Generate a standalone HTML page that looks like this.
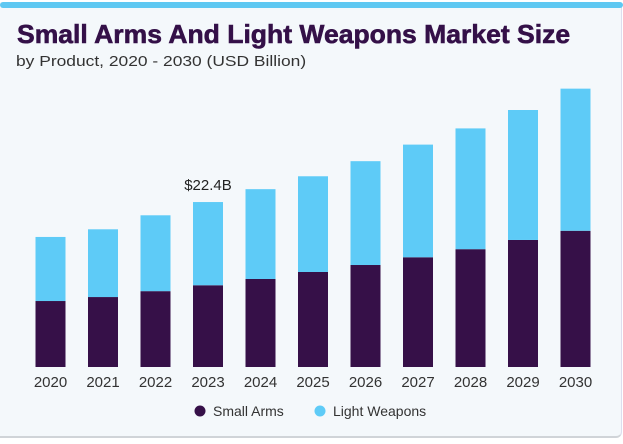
<!DOCTYPE html>
<html><head><meta charset="utf-8"><style>
html,body{margin:0;padding:0;background:#fff;}
body{width:623px;height:444px;position:relative;overflow:hidden;font-family:"Liberation Sans",sans-serif;}
#card{position:absolute;left:0;top:2px;width:621px;height:434px;background:#f4f8fb;border-bottom:2px solid #d0d4d8;border-right:1px solid #dde;border-radius:0 6px 6px 0;}
#topbar{position:absolute;left:0;top:2px;width:623px;height:6px;background:#5ec8f2;border-radius:3px;}
#title{position:absolute;left:17px;top:19px;font-size:26px;font-weight:bold;color:#341048;white-space:nowrap;transform:scaleX(1.02);transform-origin:left;-webkit-text-stroke:0.6px #341048;}
#sub{position:absolute;left:16px;top:53px;font-size:15px;color:#333;white-space:nowrap;transform:scaleX(1.16);transform-origin:left;}
</style></head><body>
<div id="card"></div>
<div id="topbar"></div>
<div id="title">Small Arms And Light Weapons Market Size</div>
<div id="sub">by Product, 2020 - 2030 (USD Billion)</div>
<svg id="chart" width="623" height="444" style="position:absolute;left:0;top:0"></svg>
<script>
const years=["2020","2021","2022","2023","2024","2025","2026","2027","2028","2029","2030"];
const smallArms=[8.96,9.5,10.3,11.1,11.95,12.9,13.85,14.9,16.0,17.25,18.5];
const lightWeapons=[8.7,9.2,10.3,11.3,12.2,13.0,14.1,15.3,16.4,17.65,19.3];
const annotatedIndex=3;
const annotatedLabel="$22.4B";
const NS="http://www.w3.org/2000/svg";
const svg=document.getElementById('chart');
const baseY=367, pxPerUnit=7.364, x0=35.5, step=52.5, bw=30;
function xPos(i){return x0+i*step;}
function yPos(v){return baseY-v*pxPerUnit;}
function mk(t,a){const e=document.createElementNS(NS,t);for(const k in a)e.setAttribute(k,a[k]);svg.appendChild(e);return e;}
years.forEach((yr,i)=>{
  const x=xPos(i);
  const s=smallArms[i], l=lightWeapons[i];
  const r1=mk('rect',{x:x,y:yPos(s),width:bw,height:baseY-yPos(s),fill:'#361048'});
  
  
  const r2=mk('rect',{x:x,y:yPos(s+l),width:bw,height:yPos(s)-yPos(s+l),fill:'#5ecbf7'});
  
  
  const t=mk('text',{x:x+bw/2,y:387,'text-anchor':'middle','font-size':'15',fill:'#333'});
  t.textContent=yr;
  
  
});
const ai=annotatedIndex;
const lab=mk('text',{x:xPos(ai)+bw/2,y:yPos(smallArms[ai]+lightWeapons[ai])-12,'text-anchor':'middle','font-size':'15',fill:'#222'});
lab.textContent=annotatedLabel;


const c1=mk('circle',{cx:200,cy:411,r:5.5,fill:'#361048'});


const t1=mk('text',{x:213,y:416,'font-size':'14',fill:'#333'});t1.textContent='Small Arms';


const c2=mk('circle',{cx:320,cy:411,r:5.5,fill:'#5ecbf7'});


const t2=mk('text',{x:333,y:416,'font-size':'14',fill:'#333'});t2.textContent='Light Weapons';


</script>
</body></html>
